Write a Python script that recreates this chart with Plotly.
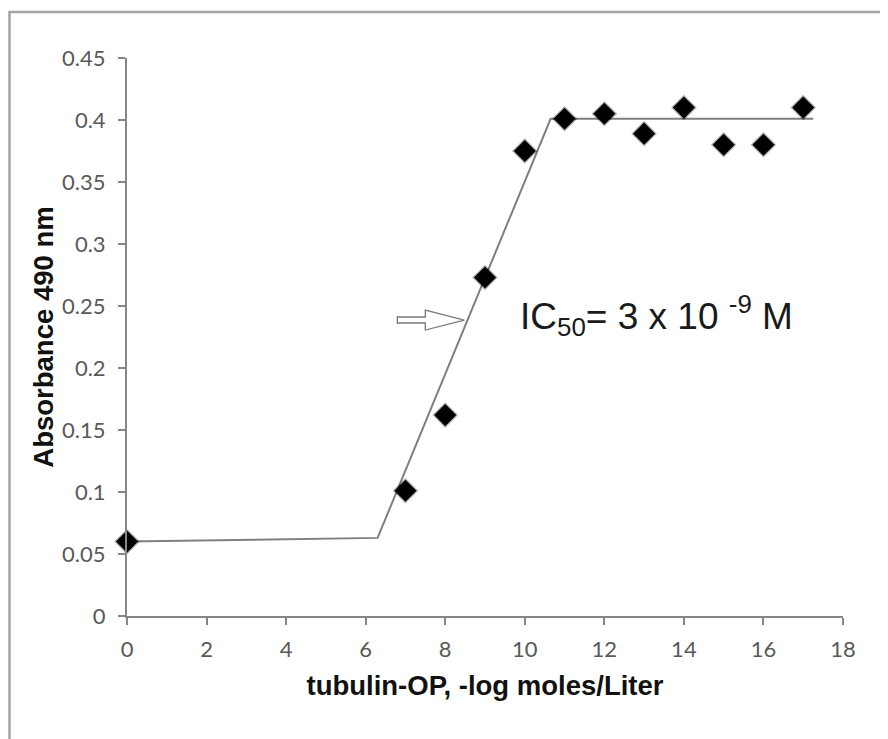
import plotly.graph_objects as go

# ---- data ----
conc_log = [0, 7, 8, 9, 10, 11, 12, 13, 14, 15, 16, 17]
absorbance = [0.060, 0.101, 0.162, 0.273, 0.375, 0.401, 0.405, 0.389, 0.410, 0.380, 0.380, 0.410]

fit_x = [0, 6.3, 10.65, 17.25]
fit_y = [0.060, 0.063, 0.401, 0.401]

x_ticks = [0, 2, 4, 6, 8, 10, 12, 14, 16, 18]
y_ticks = [0, 0.05, 0.1, 0.15, 0.2, 0.25, 0.3, 0.35, 0.4, 0.45]
y_tick_text = ["0", "0.05", "0.1", "0.15", "0.2", "0.25", "0.3", "0.35", "0.4", "0.45"]

ic50_point = (8.48, 0.2387)
ic50_label = "IC<sub>50</sub>= 3 x 10 <sup>-9</sup> M"
ic50_label_pos = (9.82, 0.2425)

x_title = "tubulin-OP, -log moles/Liter"
y_title = "Absorbance 490 nm"

AXIS_COLOR = "#868686"
TICK_FONT = dict(family="Lato, 'Open Sans', sans-serif", size=22, color="#595959")
TITLE_FONT = dict(family="'Liberation Sans', Arial, sans-serif", size=27.5, color="#111111")

fig = go.Figure()

fig.add_trace(go.Scatter(
    x=fit_x, y=fit_y, mode="lines",
    line=dict(color="#7f7f7f", width=2),
    hoverinfo="skip", showlegend=False,
))

fig.add_trace(go.Scatter(
    x=conc_log, y=absorbance, mode="markers",
    marker=dict(symbol="diamond", size=17, color="#000000",
                line=dict(color="rgba(0,0,0,0.3)", width=2.5)),
    cliponaxis=False, showlegend=False,
))

# outline arrow pointing at IC50 on the fit line (pixel-sized path anchored in data coords)
fig.add_shape(
    type="path",
    xsizemode="pixel", ysizemode="pixel",
    xanchor=ic50_point[0], yanchor=ic50_point[1],
    xref="x", yref="y",
    path="M -67,3 L -39,3 L -39,10 L 0,0 L -39,-10 L -39,-3 L -67,-3 Z",
    line=dict(color="#7a7a7a", width=1.3),
    fillcolor="white",
    layer="above",
)

fig.add_annotation(
    x=ic50_label_pos[0], y=ic50_label_pos[1], xref="x", yref="y",
    text=ic50_label, showarrow=False,
    xanchor="left", yanchor="middle",
    font=dict(family="'Liberation Sans', Arial, sans-serif", size=37, color="#1a1a1a"),
)

# outer frame (left and top edges visible)
fig.add_shape(
    type="path", xref="paper", yref="paper",
    path="M -0.1641,-0.3 L -0.1641,1.0824 L 1.2,1.0824",
    line=dict(color="#a3a3a3", width=2.5),
    layer="above",
)

fig.update_xaxes(
    range=[0, 18], tickvals=x_ticks, ticktext=[str(v) for v in x_ticks],
    showgrid=False, zeroline=False,
    showline=True, linecolor=AXIS_COLOR, linewidth=2,
    ticks="outside", ticklen=7, tickwidth=2, tickcolor=AXIS_COLOR,
    tickfont=TICK_FONT, ticklabelstandoff=6,
    title=dict(text="<b>" + x_title + "</b>", font=TITLE_FONT, standoff=14),
)
fig.update_yaxes(
    range=[0, 0.45], tickvals=y_ticks, ticktext=y_tick_text,
    showgrid=False, zeroline=False,
    showline=True, linecolor=AXIS_COLOR, linewidth=2,
    ticks="outside", ticklen=7, tickwidth=2, tickcolor=AXIS_COLOR,
    tickfont=TICK_FONT, ticklabelstandoff=8,
    title=dict(text="<b>" + y_title + "</b>", font=TITLE_FONT, standoff=0),
)

# page body adds an 8px offset; figure is sized and margined so the plot lands where the reference has it
fig.update_layout(
    width=880, height=731,
    margin=dict(l=119, r=45, t=50, b=123, autoexpand=False),
    paper_bgcolor="white", plot_bgcolor="white",
    showlegend=False,
)

fig.write_html("out.html")
